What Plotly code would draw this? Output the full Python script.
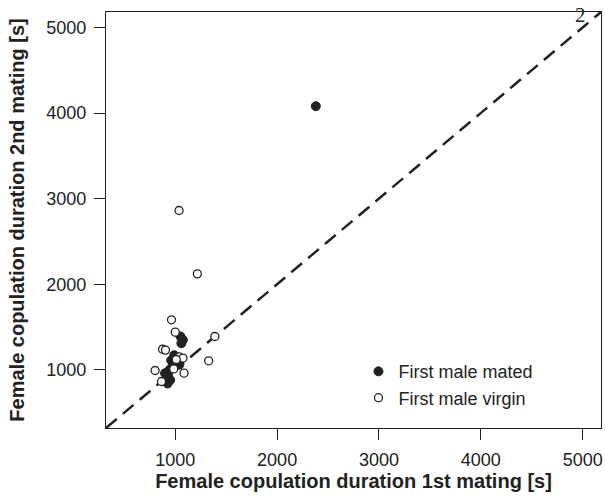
import plotly.graph_objects as go

# Data
mated_x = [2380, 1050, 1075, 1060, 990, 960, 1010, 975, 1040, 900, 930, 950, 925, 945, 915]
mated_y = [4080, 1390, 1350, 1310, 1170, 1110, 1080, 1040, 1060, 960, 930, 880, 840, 1000, 900]
virgin_x = [1037, 1217, 963, 1000, 1389, 875, 904, 1040, 1076, 1328, 802, 865, 1086, 1010, 985]
virgin_y = [2861, 2121, 1584, 1440, 1389, 1240, 1230, 1150, 1137, 1105, 992, 863, 961, 1120, 1010]
tick_vals = [1000, 2000, 3000, 4000, 5000]
axis_range = [320, 5180]

FONT = "Liberation Sans, Arial, sans-serif"
INK = "#222222"

fig = go.Figure()
fig.add_trace(go.Scatter(
    x=axis_range, y=axis_range, mode="lines",
    line=dict(color=INK, width=2.5, dash="14px,8px"),
    showlegend=False, hoverinfo="skip"))
fig.add_trace(go.Scatter(
    x=mated_x, y=mated_y, mode="markers", name="First male mated",
    legendgroup="a",
    marker=dict(symbol="circle", size=9, color=INK, line=dict(color=INK, width=1))))
fig.add_trace(go.Scatter(
    x=virgin_x, y=virgin_y, mode="markers", name="First male virgin",
    legendgroup="b",
    marker=dict(symbol="circle", size=8, color="white", line=dict(color=INK, width=1.3))))

axis_common = dict(
    range=axis_range, tickvals=tick_vals, ticks="outside", ticklen=11, tickwidth=1.2,
    tickcolor=INK, showline=True, linecolor=INK, linewidth=1.2, mirror=True,
    showgrid=False, zeroline=False, tickfont=dict(family=FONT, size=18, color=INK),
)

fig.update_layout(
    width=605, height=498,
    margin=dict(l=106, r=2, t=12, b=70),
    paper_bgcolor="white", plot_bgcolor="white",
    font=dict(family=FONT, color=INK),
    xaxis=dict(**axis_common, ticklabelstandoff=4,
               title=dict(text="<b>Female copulation duration 1st mating [s]</b>",
                          font=dict(family=FONT, size=20, color=INK), standoff=4)),
    yaxis=dict(**axis_common, ticklabelstandoff=4,
               title=dict(text="<b>Female copulation duration 2nd mating [s]</b>",
                          font=dict(family=FONT, size=20, color=INK), standoff=16)),
    legend=dict(x=0.51, y=0.18, xanchor="left", yanchor="top",
                bgcolor="rgba(0,0,0,0)", font=dict(family=FONT, size=18, color=INK),
                itemwidth=30, tracegroupgap=0, traceorder="grouped"),
    annotations=[dict(text="2", xref="paper", yref="paper", x=0.958, y=0.993,
                      xanchor="center", yanchor="middle", showarrow=False,
                      font=dict(family="Liberation Serif, Times New Roman, serif", size=21, color=INK))],
)

fig.write_html("out.html")
